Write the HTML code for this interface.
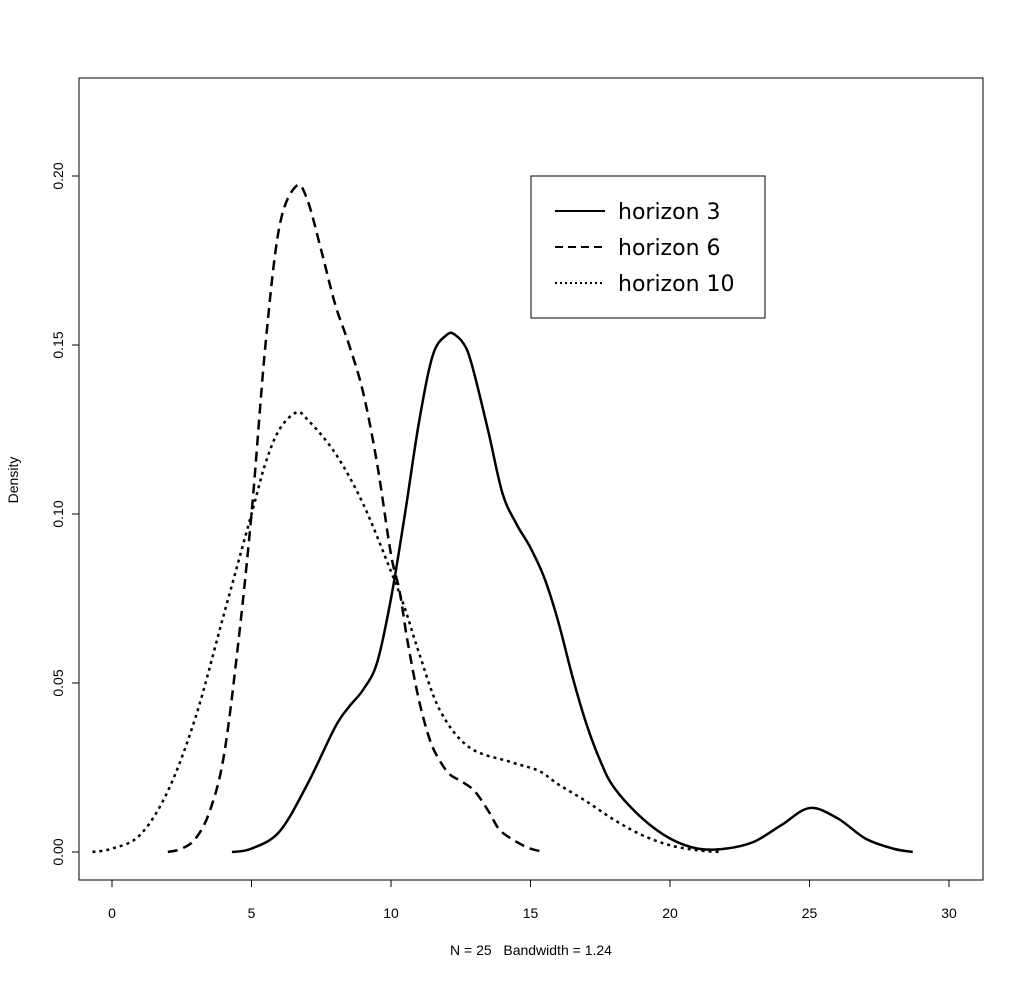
<!DOCTYPE html>
<html><head><meta charset="utf-8"><style>
body{margin:0;background:#fff}
svg text{font-family:"Liberation Sans",sans-serif;fill:#000}
svg text.leg{font-family:"DejaVu Sans",sans-serif}
</style></head><body>
<svg id="chart" width="1024" height="980">
<rect x="79" y="78" width="904" height="802" fill="none" stroke="#000" stroke-width="1"/>
<g id="axes"></g><g id="series"></g>
<text x="18" y="480" font-size="14" text-anchor="middle" transform="rotate(-90 18 480)">Density</text>
<text x="531" y="955" font-size="14" text-anchor="middle">N = 25&#160;&#160;&#160;Bandwidth = 1.24</text>
<g>
<rect x="531" y="176" width="234" height="142" fill="#fff" stroke="#000" stroke-width="1"/>
<line x1="555" y1="211" x2="605" y2="211" stroke="#000" stroke-width="2"/>
<text class="leg" x="618" y="219" font-size="22">horizon 3</text>
<line x1="555" y1="247" x2="605" y2="247" stroke="#000" stroke-width="2" stroke-dasharray="8,5"/>
<text class="leg" x="618" y="255" font-size="22">horizon 6</text>
<line x1="555" y1="283" x2="605" y2="283" stroke="#000" stroke-width="2" stroke-dasharray="2,3"/>
<text class="leg" x="618" y="291" font-size="22">horizon 10</text>
</g>
</svg>
<script>
const xTicks=[0,5,10,15,20,25,30];
const yTicks=[0,0.05,0.10,0.15,0.20];
const yTickLabels=["0.00","0.05","0.10","0.15","0.20"];
const h3x=[4.3,5,6,7,8,8.5,9,9.5,10,10.5,11,11.5,12,12.3,12.7,13,13.5,14,14.5,15,15.5,16,16.5,17,17.5,18,19,20,21,22,23,24,25,26,27,28,28.7];
const h3y=[0,0.001,0.006,0.02,0.037,0.043,0.048,0.056,0.075,0.10,0.127,0.147,0.153,0.153,0.149,0.141,0.124,0.106,0.097,0.09,0.081,0.068,0.052,0.038,0.027,0.019,0.01,0.004,0.001,0.001,0.003,0.008,0.013,0.01,0.004,0.001,0];
const h6x=[2,2.5,3,3.5,4,4.5,5,5.5,6,6.6,7,7.5,8,8.5,9,9.5,10,10.3,10.6,11,11.4,11.75,12.1,12.5,13,13.5,13.9,14.5,15,15.5];
const h6y=[0,0.001,0.004,0.012,0.028,0.06,0.1,0.15,0.185,0.197,0.193,0.178,0.162,0.15,0.136,0.115,0.088,0.0775,0.062,0.045,0.033,0.027,0.023,0.021,0.018,0.012,0.0065,0.003,0.001,0];
const h10x=[-0.7,0,1,2,3,4,5,5.5,6,6.6,7,8,9,10,10.5,11,11.75,12.8,14.3,15.3,16,17,18,19,20,21,21.8];
const h10y=[0,0.001,0.005,0.018,0.04,0.07,0.1,0.115,0.125,0.13,0.128,0.118,0.103,0.083,0.072,0.059,0.042,0.031,0.0266,0.024,0.02,0.015,0.0095,0.005,0.002,0.0005,0];
const X=v=>112+v*(949-112)/30, Y=v=>852-v*(852-176)/0.2;
const NS="http://www.w3.org/2000/svg";
const ax=document.getElementById('axes'), se=document.getElementById('series');
function mk(t,a,p){const e=document.createElementNS(NS,t);for(const k in a)e.setAttribute(k,a[k]);p.appendChild(e);return e;}
xTicks.forEach(v=>{
 const l=mk('line',{x1:X(v),x2:X(v),y1:880,y2:887,stroke:'#000'},ax);
 
 
 const t=mk('text',{x:X(v),y:918,'font-size':14,'text-anchor':'middle'},ax);t.textContent=v;
 
 
});
yTicks.forEach((v,i)=>{
 const l=mk('line',{x1:72,x2:79,y1:Y(v),y2:Y(v),stroke:'#000'},ax);
 
 
 const t=mk('text',{x:63,y:Y(v),'font-size':14,'text-anchor':'middle',transform:`rotate(-90 63 ${Y(v)})`},ax);t.textContent=yTickLabels[i];
 
 
});
function path(xs,ys){
 const p=xs.map((x,i)=>[X(x),Y(ys[i])]);let d=`M${p[0][0]},${p[0][1]}`;
 for(let i=0;i<p.length-1;i++){const p0=p[Math.max(0,i-1)],p1=p[i],p2=p[i+1],p3=p[Math.min(p.length-1,i+2)];
 d+=` C${p1[0]+(p2[0]-p0[0])/6},${p1[1]+(p2[1]-p0[1])/6} ${p2[0]-(p3[0]-p1[0])/6},${p2[1]-(p3[1]-p1[1])/6} ${p2[0]},${p2[1]}`;}
 return d;}
const s1=mk('path',{d:path(h3x,h3y),fill:'none',stroke:'#000','stroke-width':2.5},se);


const s2=mk('path',{d:path(h6x,h6y),fill:'none',stroke:'#000','stroke-width':2.5,'stroke-dasharray':'10,6'},se);


const s3=mk('path',{d:path(h10x,h10y),fill:'none',stroke:'#000','stroke-width':2.5,'stroke-dasharray':'3,4'},se);


</script>
</body></html>
